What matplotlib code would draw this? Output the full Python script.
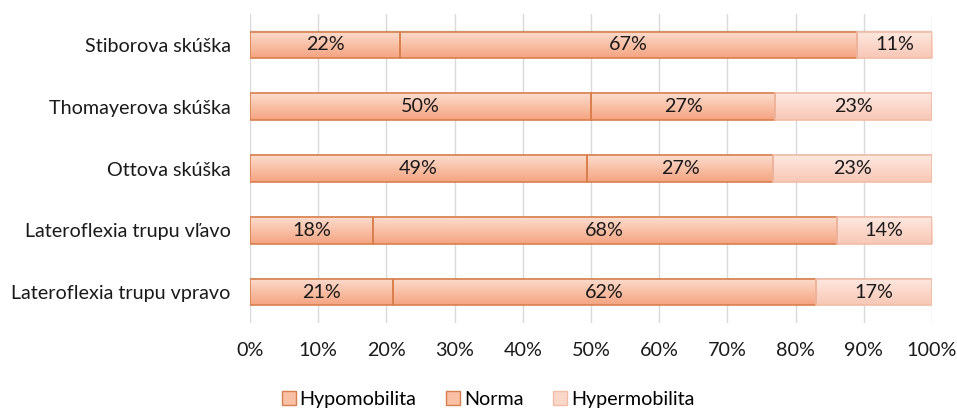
import numpy as np
import matplotlib
matplotlib.use("Agg")
import matplotlib.pyplot as plt
from matplotlib.colors import LinearSegmentedColormap
from matplotlib.patches import Patch, Rectangle
from matplotlib.ticker import MultipleLocator, FuncFormatter

plt.rcParams["font.family"] = ["Lato", "DejaVu Sans"]

categories = ["Stiborova skúška", "Thomayerova skúška", "Ottova skúška",
              "Lateroflexia trupu vľavo", "Lateroflexia trupu vpravo"]
hypomobilita = [22.0, 50.0, 49.4, 18.0, 21.0]
norma = [67.0, 27.0, 27.3, 68.0, 62.0]
hypermobilita = [11.0, 23.0, 23.3, 14.0, 17.0]
series_names = ["Hypomobilita", "Norma", "Hypermobilita"]

# fill gradient top->bottom, edge colour
styles = [
    (["#fcdccf", "#f9c0a6", "#f5a482"], "#d97f4c"),
    (["#fcdccf", "#f9c0a6", "#f5a482"], "#d97f4c"),
    (["#fde9e1", "#fbd7ca", "#f8c8b6"], "#f1bca8"),
]
FS = 14.2

fig = plt.figure(figsize=(9.57, 4.08), dpi=100)
ax = fig.add_axes([0.2612, 0.2083, 0.7127, 0.7574])

y = np.arange(len(categories))
h = 0.43
left = np.zeros(len(categories))
for vals, (grad, edge) in zip([hypomobilita, norma, hypermobilita], styles):
    cmap = LinearSegmentedColormap.from_list("g", grad)
    for yi, l, v in zip(y, left, vals):
        # soft shadow under the bar
        for k, a in [(0.06, 0.10), (0.04, 0.12), (0.02, 0.15)]:
            ax.add_patch(Rectangle((l, yi - h / 2 - k * 0.3), v, h + k * 0.2,
                                   facecolor="#808080", alpha=a, lw=0, zorder=1.5))
        rect = Rectangle((l, yi - h / 2), v, h, facecolor="none",
                         edgecolor=edge, lw=1.2, zorder=3)
        ax.add_patch(rect)
        im = ax.imshow(np.linspace(0, 1, 64).reshape(-1, 1), cmap=cmap,
                       extent=(l, l + v, yi + h / 2, yi - h / 2),
                       aspect="auto", zorder=2, interpolation="bilinear")
        im.set_clip_path(rect)
        ax.text(l + v / 2, yi, "{:.0f}%".format(v), ha="center", va="center",
                fontsize=FS, color="#1a1a1a", zorder=4)
    left = left + np.array(vals)

ax.set_xlim(0, 100)
ax.set_ylim(len(categories) - 0.5, -0.5)
ax.set_yticks(y)
ax.set_yticklabels(categories)
ax.xaxis.set_major_locator(MultipleLocator(10))
ax.xaxis.set_major_formatter(FuncFormatter(lambda v, p: "{:.0f}%".format(v)))
ax.grid(axis="x", color="#d9d9d9", lw=1, zorder=0)
ax.set_axisbelow(True)
for s in ax.spines.values():
    s.set_visible(False)
ax.tick_params(length=0, labelsize=FS, colors="#1a1a1a")
ax.tick_params(axis="y", pad=14)
ax.tick_params(axis="x", pad=14)

handles = [Patch(facecolor=st[0][1], edgecolor=st[1], label=n)
           for st, n in zip(styles, series_names)]
fig.legend(handles=handles, loc="center", bbox_to_anchor=(0.51, 0.022),
           ncol=3, frameon=False, fontsize=FS, handlelength=0.7,
           handleheight=0.7, handletextpad=0.2, columnspacing=1.5)

fig.savefig("out.png", dpi=100)
